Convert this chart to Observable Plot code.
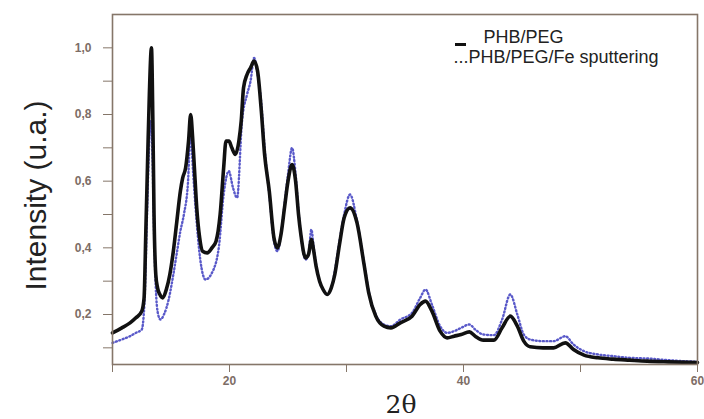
<!DOCTYPE html>
<html>
<head>
<meta charset="utf-8">
<script src="https://cdn.jsdelivr.net/npm/d3@7"></script>
<script src="https://cdn.jsdelivr.net/npm/@observablehq/plot@0.6"></script>
<style>
  html, body { margin: 0; padding: 0; background: #fff; }
  #chart { position: relative; width: 704px; height: 419px; }
  #chart svg { display: block; }
  #swatch { position: absolute; left: 455px; top: 43px; width: 11px; height: 3px; background: #111; }
</style>
</head>
<body>
<div id="chart"><div id="swatch"></div></div>
<script>
// 2θ positions and intensities, PHB/PEG (solid black)
const phbX = [
  10, 10.8, 11.5, 12.0, 12.5, 12.7, 12.85, 13.0, 13.15, 13.33,
  13.45, 13.55, 13.7, 13.85, 14.05, 14.3, 14.6, 14.9, 15.2, 15.5,
  15.8, 16.0, 16.25, 16.5, 16.68, 16.85, 17.0, 17.2, 17.45, 17.7,
  18.1, 18.5, 18.85, 19.2, 19.5, 19.7, 19.95, 20.2, 20.5, 20.8,
  21.0, 21.2, 21.5, 21.8, 22.1, 22.4, 22.7, 23.0, 23.4, 23.8,
  24.1, 24.4, 24.7, 25.0, 25.35, 25.65, 25.9, 26.1, 26.5, 26.75,
  27.0, 27.2, 27.4, 27.7, 28.0, 28.35, 28.7, 29.0, 29.4, 29.8,
  30.3, 30.9, 31.5, 31.9, 32.5, 33.2, 33.8, 34.6, 35.6, 36.3,
  36.75, 37.3, 38.0, 38.6, 39.2, 39.8, 40.5, 41.0, 41.7, 42.6,
  43.3, 44.0, 44.6, 45.15, 45.7, 46.8, 47.7, 48.7, 49.4, 50.3,
  51.5, 52.8, 54.2, 55.7, 57.5, 60
];
const phbY = [
  0.145, 0.16, 0.175, 0.19, 0.21, 0.25, 0.45, 0.66, 0.86, 1.0,
  0.78, 0.50, 0.32, 0.28, 0.26, 0.25, 0.275, 0.32, 0.39, 0.48,
  0.57, 0.61, 0.64, 0.72, 0.80, 0.73, 0.64, 0.52, 0.43, 0.39,
  0.385, 0.40, 0.42, 0.50, 0.64, 0.72, 0.72, 0.70, 0.68, 0.72,
  0.78, 0.88, 0.92, 0.94, 0.96, 0.93, 0.82, 0.68, 0.57, 0.43,
  0.40, 0.44, 0.52, 0.60, 0.65, 0.60, 0.50, 0.44, 0.37, 0.38,
  0.425, 0.39, 0.345, 0.30, 0.275, 0.26, 0.28, 0.32, 0.41, 0.49,
  0.52, 0.475, 0.35, 0.265, 0.195, 0.165, 0.16, 0.175, 0.195, 0.23,
  0.24, 0.21, 0.15, 0.13, 0.135, 0.14, 0.148, 0.135, 0.123, 0.123,
  0.16, 0.195, 0.165, 0.12, 0.103, 0.10, 0.10, 0.115, 0.095, 0.078,
  0.07, 0.066, 0.063, 0.06, 0.058, 0.056
];
// PHB/PEG/Fe sputtering (blue dotted)
const feX = [
  10, 10.8, 11.5, 12.0, 12.5, 12.75, 12.95, 13.1, 13.25, 13.4,
  13.55, 13.7, 13.9, 14.1, 14.4, 14.8, 15.2, 15.5, 15.8, 16.1,
  16.44, 16.67, 16.9, 17.1, 17.5, 17.95, 18.5, 19.1, 19.5, 19.94,
  20.3, 20.65, 21.07, 21.5, 21.8, 22.1, 22.4, 22.7, 23.0, 23.4,
  23.8, 24.1, 24.4, 24.7, 25.0, 25.35, 25.65, 25.9, 26.1, 26.5,
  26.75, 27.0, 27.2, 27.4, 27.7, 28.0, 28.35, 28.7, 29.0, 29.4,
  29.8, 30.3, 30.9, 31.5, 31.9, 32.5, 33.2, 33.8, 34.6, 35.6,
  36.3, 36.75, 37.3, 38.0, 38.6, 39.2, 39.8, 40.5, 41.0, 41.7,
  42.6, 43.3, 44.0, 44.6, 45.15, 45.7, 46.8, 47.7, 48.7, 49.4,
  50.3, 51.5, 52.8, 54.2, 55.7, 57.5, 60
];
const feY = [
  0.115, 0.125, 0.135, 0.145, 0.155, 0.25, 0.50, 0.68, 0.78, 0.70,
  0.45, 0.28, 0.20, 0.185, 0.20, 0.245, 0.32, 0.385, 0.45, 0.50,
  0.59, 0.74, 0.62, 0.52, 0.365, 0.305, 0.325, 0.405, 0.56, 0.63,
  0.58, 0.55, 0.78, 0.86, 0.90, 0.97, 0.92, 0.84, 0.70, 0.56,
  0.42, 0.39, 0.44, 0.53, 0.62, 0.70, 0.62, 0.51, 0.44, 0.365,
  0.38, 0.455, 0.40, 0.35, 0.30, 0.275, 0.26, 0.28, 0.33, 0.42,
  0.50, 0.56, 0.48, 0.355, 0.27, 0.20, 0.17, 0.165, 0.185, 0.205,
  0.25, 0.275, 0.23, 0.165, 0.145, 0.15, 0.16, 0.17, 0.155, 0.14,
  0.138, 0.185, 0.26, 0.20, 0.14, 0.125, 0.12, 0.12, 0.135, 0.11,
  0.09, 0.08, 0.075, 0.07, 0.068, 0.063, 0.058
];
const xTicks = [10, 20, 30, 40, 50, 60];
const xTickLabels = {20: "20", 40: "40", 60: "60"};
const yTicks = [0.1, 0.2, 0.3, 0.4, 0.5, 0.6, 0.7, 0.8, 0.9, 1.0];
const yTickLabels = {0.2: "0,2", 0.4: "0,4", 0.6: "0,6", 0.8: "0,8", 1.0: "1,0"};
const seriesNames = ["PHB/PEG", "...PHB/PEG/Fe sputtering"];
const xTitle = "2θ";
const yTitle = "Intensity (u.a.)";

const phb = phbX.map((x, i) => ({x, y: phbY[i]}));
const fe = feX.map((x, i) => ({x, y: feY[i]}));

const axisColor = "#857669";
const labelColor = "#7d6d66";

const chart = Plot.plot({
  width: 704,
  height: 419,
  marginLeft: 112,
  marginRight: 7,
  marginTop: 14,
  marginBottom: 55,
  style: {fontFamily: "Liberation Sans, Arial, sans-serif", background: "#fff"},
  x: {domain: [10, 60]},
  y: {domain: [0.05, 1.1]},
  marks: [
    Plot.axisX({
      ticks: xTicks, tickSize: 8, tickPadding: 4,
      tickFormat: d => xTickLabels[d] ?? "",
      stroke: axisColor, fill: labelColor, fontSize: 12, fontWeight: "bold",
      label: null
    }),
    Plot.axisY({
      ticks: yTicks, tickSize: 9, tickPadding: 12,
      tickFormat: d => yTickLabels[Math.round(d * 10) / 10] ?? "",
      stroke: axisColor, fill: labelColor, fontSize: 12, fontWeight: "bold",
      label: null
    }),
    Plot.line(fe, {x: "x", y: "y", stroke: "#3c3cc0", strokeWidth: 2.4,
      strokeDasharray: "1 2.6", strokeOpacity: 0.85, curve: "monotone-x"}),
    Plot.line(phb, {x: "x", y: "y", stroke: "#111", strokeWidth: 3.6,
      curve: "monotone-x"}),
    Plot.frame({stroke: axisColor, strokeWidth: 1.6}),
    Plot.text([yTitle], {text: d => d, frameAnchor: "left", rotate: -90,
      dx: -76, dy: 6, fontSize: 30, fill: "#222", lineAnchor: "middle",
      textAnchor: "middle", fontFamily: "Liberation Sans, Arial, sans-serif"}),
    Plot.text([xTitle], {text: d => d, frameAnchor: "bottom", dx: -4, dy: 40,
      fontSize: 25, fill: "#222", lineAnchor: "middle", textAnchor: "middle",
      fontFamily: "DejaVu Serif, serif"}),
    Plot.text([seriesNames[0]], {text: d => d, frameAnchor: "top-left", dx: 371, dy: 22.5,
      fontSize: 18, fill: "#222", textAnchor: "start", lineAnchor: "middle"}),
    Plot.text([seriesNames[1]], {text: d => d, frameAnchor: "top-left", dx: 341, dy: 43,
      fontSize: 18, fill: "#222", textAnchor: "start", lineAnchor: "middle"})
  ]
});
document.getElementById("chart").appendChild(chart);
</script>
</body>
</html>
